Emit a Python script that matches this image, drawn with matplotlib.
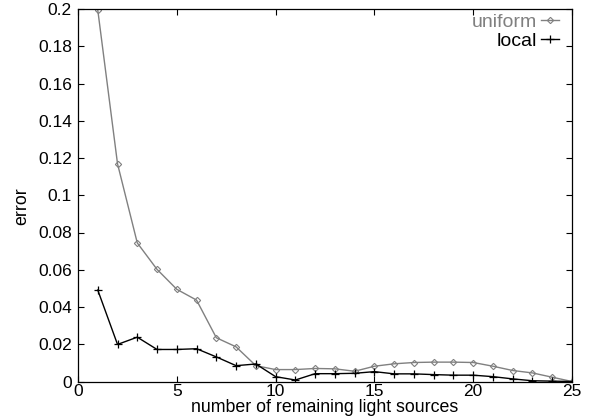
import matplotlib.pyplot as plt

plt.rcParams['font.family'] = ['Liberation Sans', 'DejaVu Sans']

# number of remaining light sources
sources = list(range(1, 26))

# error
uniform = [0.1995, 0.1169, 0.0744, 0.0602, 0.0495, 0.0437, 0.0235, 0.0186, 0.0085,
           0.0064, 0.0064, 0.0070, 0.0068, 0.0055, 0.0082, 0.0095, 0.0102, 0.0104,
           0.0104, 0.0102, 0.0082, 0.0059, 0.0046, 0.0023, 0.0]
local = [0.0491, 0.0199, 0.0238, 0.0172, 0.0172, 0.0176, 0.0132, 0.0085, 0.0094,
         0.0026, 0.0008, 0.0042, 0.0042, 0.0044, 0.0053, 0.0041, 0.0041, 0.0037,
         0.0034, 0.0034, 0.0026, 0.0014, 0.0004, 0.0002, 0.0]

x_ticks = [0, 5, 10, 15, 20, 25]
y_ticks = [0, 0.02, 0.04, 0.06, 0.08, 0.1, 0.12, 0.14, 0.16, 0.18, 0.2]
y_tick_labels = ["0", "0.02", "0.04", "0.06", "0.08", "0.1", "0.12", "0.14", "0.16", "0.18", "0.2"]

gray = "#808080"
W, H = 594, 420

fig = plt.figure(figsize=(W / 100, H / 100), dpi=100)
# plot area in pixels: left 78, right 572, top 9, bottom 381.5
ax = fig.add_axes([78 / W, 1 - 381.5 / H, 494 / W, 372.5 / H])

ax.plot(sources, uniform, color=gray, lw=1, marker="D", ms=3.2, mfc="none",
        mec=gray, mew=0.8, label="uniform")
ax.plot(sources, local, color="black", lw=1, marker="+", ms=5.5, mew=0.9,
        label="local")

ax.set_xlim(0, 25)
ax.set_ylim(0, 0.2)
ax.set_xticks(x_ticks)
ax.set_yticks(y_ticks)
ax.set_yticklabels(y_tick_labels)
ax.tick_params(direction="in", top=True, right=True, length=4, width=0.8,
               labelsize=12.5)
ax.tick_params(axis="x", pad=2)
ax.tick_params(axis="y", pad=4.5)
for s in ax.spines.values():
    s.set_linewidth(0.9)

ax.set_xlabel("number of remaining light sources", fontsize=12.8)
ax.xaxis.set_label_coords(0.5, -0.048)
ax.set_ylabel("error", fontsize=12.8)
ax.yaxis.set_label_coords(-0.096, 0.47)

ax.legend(loc="upper right", bbox_to_anchor=(559 / W, 1 - 13.5 / H),
          bbox_transform=fig.transFigure, frameon=False, markerfirst=False,
          handlelength=0.95, handletextpad=0.2, labelspacing=0.05,
          borderpad=0, borderaxespad=0, fontsize=14,
          labelcolor=[gray, "black"], numpoints=1)

fig.savefig("out.png", dpi=100)
